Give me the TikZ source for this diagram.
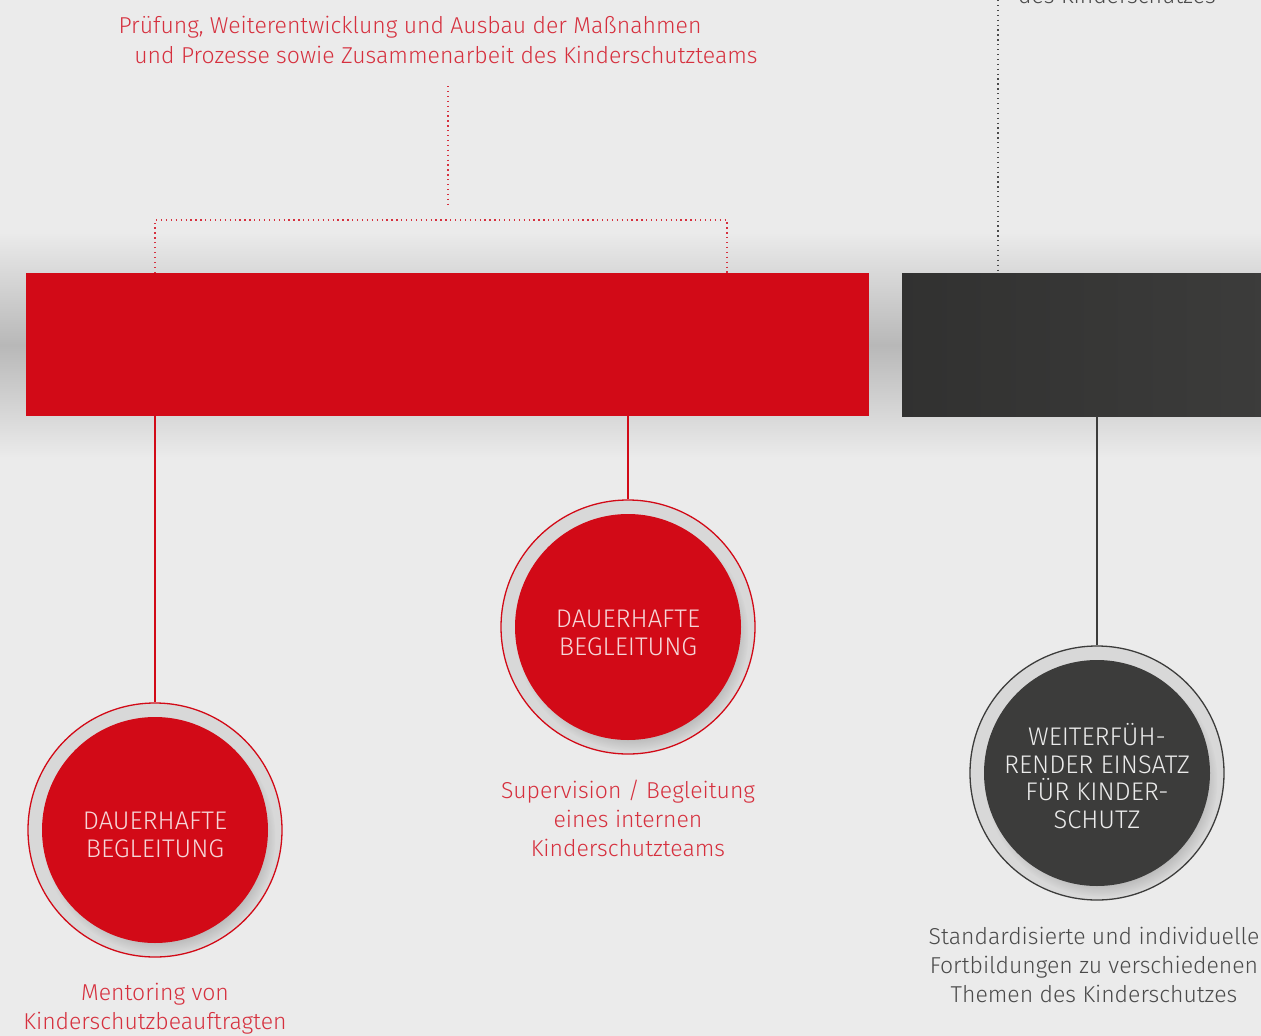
\documentclass[tikz,border=0pt]{standalone}
\usepackage{fontspec}
\setmainfont{Fira Sans}[UprightFont=* Light]
\usetikzlibrary{shadows,calc}
\definecolor{bg}{HTML}{EBEBEB}
\definecolor{shadowgrey}{HTML}{B8B8B8}
\definecolor{kred}{HTML}{D20A17}
\definecolor{lred}{HTML}{D6303E}
\definecolor{kdark}{HTML}{3C3C3B}
\definecolor{tgrey}{HTML}{4A4A4A}
\definecolor{ctext}{HTML}{F6D6D8}
\tikzset{
  bar/.style={rectangle, inner sep=0pt, minimum height=143pt},
  ring/.style={circle, inner sep=0pt, minimum size=254pt, line width=1.3pt, fill=bg!92!black},
  disc/.style={circle, inner sep=0pt, minimum size=226pt,
     circular drop shadow={shadow xshift=4pt, shadow yshift=-7pt, shadow scale=1.03, opacity=0.45}},
  ctxt/.style={align=center, inner sep=0pt, font=\fontsize{25.5}{27.5}\selectfont},
  lbl/.style={align=center, font=\fontsize{23}{29}\selectfont, inner sep=0pt},
  dots/.style={line width=1.3pt, dash pattern=on 1.3pt off 3.6pt},
  link/.style={line width=1.2pt}
}
\begin{document}
\begin{tikzpicture}[x=1pt,y=-1pt]
\path[use as bounding box, clip] (0,0) rectangle (1261,1036);
\fill[bg] (0,0) rectangle (1261,1036);
\shade[top color=bg, bottom color=bg, middle color=shadowgrey] (0,232) rectangle (1261,458);

% bars
\node[bar, fill=kred, minimum width=843pt] (rbar) at (447.5,344.5) {};
\node[bar, left color=kdark!82!black, right color=kdark, minimum width=370pt] (dbar) at (1087,344.5) {};

% top texts
\node[lbl, text=lred, anchor=base] (t1) at (410,34) {Prüfung, Weiterentwicklung und Ausbau der Maßnahmen};
\node[lbl, text=lred, anchor=base] (t2) at (446,63) {und Prozesse sowie Zusammenarbeit des Kinderschutzteams};
\node[lbl, text=tgrey, anchor=base] (t3) at (1117,3) {des Kinderschutzes};

% dotted connectors
\coordinate (dtop) at (448,86);
\coordinate (dbot) at (448,207);
\coordinate (bl) at (155,220);
\coordinate (br) at (727,220);
\draw[dots, lred] (dtop) -- (dbot);
\draw[dots, lred] (bl |- rbar.north) -- (bl) -- (br) -- (br |- rbar.north);
\coordinate (dk) at (998,0);
\draw[dots, tgrey] (dk) -- (dk |- dbar.north);

% circles
\node[ring, draw=kred] (r1) at (155,830) {};
\node[disc, fill=kred] (c1) at (155,830) {};
\node[ctxt, text=ctext] (c1t) at ($(c1)+(0,5)$) {DAUERHAFTE\\BEGLEITUNG};
\node[ring, draw=kred] (r2) at (628,627) {};
\node[disc, fill=kred] (c2) at (628,627) {};
\node[ctxt, text=ctext] (c2t) at ($(c2)+(0,6)$) {DAUERHAFTE\\BEGLEITUNG};
\node[ring, draw=kdark] (r3) at (1097,773) {};
\node[disc, fill=kdark] (c3) at (1097,773) {};
\node[ctxt, text=bg] (c3t) at ($(c3)+(0,3)$) {WEITERFÜH-\\RENDER EINSATZ\\FÜR KINDER-\\SCHUTZ};

% solid connectors
\draw[link, kred] (rbar.south -| r1.north) -- (r1.north);
\draw[link, kred] (rbar.south -| r2.north) -- (r2.north);
\draw[link, kdark] (dbar.south -| r3.north) -- (r3.north);

% labels
\node[lbl, text=lred] (l2) at (628,818) {Supervision / Begleitung\\eines internen\\Kinderschutzteams};
\node[lbl, text=lred] (l1) at (155,1009) {Mentoring von\\Kinderschutzbeauftragten};
\node[lbl, text=tgrey] (l3) at (1094,965) {Standardisierte und individuelle\\Fortbildungen zu verschiedenen\\Themen des Kinderschutzes};
\end{tikzpicture}
\end{document}
